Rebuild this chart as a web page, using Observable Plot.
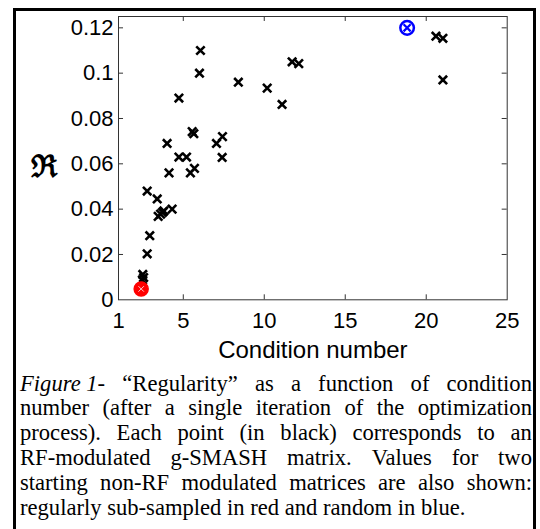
<!DOCTYPE html>
<html><head><meta charset="utf-8">
<script src="https://cdn.jsdelivr.net/npm/d3@7"></script>
<script src="https://cdn.jsdelivr.net/npm/@observablehq/plot@0.6"></script>
<style>
body{margin:0;background:#fff;width:540px;height:529px;overflow:hidden;position:relative}
#frame{position:absolute;left:13px;top:8px;width:517px;height:540px;border:3px solid #000;border-bottom:none;box-sizing:content-box}
#chart{position:absolute;left:0;top:0}
#caption{position:absolute;left:20px;top:371.6px;width:512px;font-family:"Liberation Serif","Times New Roman",serif;font-size:22.6px;line-height:24.8px;color:#000}
#caption div{white-space:nowrap;display:flex;justify-content:space-between}
#caption div.last{display:block;text-align:left}
</style></head>
<body>
<div id="frame"></div>
<div id="chart"></div>
<div id="caption"></div>
<script>
// Black points: condition number and regularity
const condBlack = [6.06, 6.0, 8.4, 4.73, 5.55, 5.65, 7.42, 7.05, 4.0, 4.73, 5.2, 7.4, 4.12, 5.44, 5.69, 2.77, 3.39, 4.31, 3.45, 3.6, 3.72, 3.8, 2.93, 2.77, 2.5, 2.55, 2.48, 10.18, 11.1, 11.72, 12.13, 20.6, 21.03, 21.03];
const regBlack  = [0.110, 0.100, 0.096, 0.089, 0.0742, 0.0733, 0.072, 0.069, 0.069, 0.063, 0.063, 0.0628, 0.056, 0.056, 0.058, 0.048, 0.0445, 0.040, 0.0368, 0.0378, 0.0386, 0.0392, 0.0283, 0.0203, 0.0112, 0.0098, 0.0088, 0.0934, 0.0862, 0.105, 0.1042, 0.1163, 0.1154, 0.097];
const condRed = [2.4];
const regRed = [0.0048];
const condBlue = [18.82];
const regBlue = [0.120];
const xTicks = [1, 5, 10, 15, 20, 25];
const xTickLabels = ["1", "5", "10", "15", "20", "25"];
const yTicks = [0, 0.02, 0.04, 0.06, 0.08, 0.1, 0.12];
const yTickLabels = ["0", "0.02", "0.04", "0.06", "0.08", "0.1", "0.12"];
const xLabel = "Condition number";
const yLabel = "\u211C";
const captionLines = [
  ["<i>Figure 1-</i>", "“Regularity”", "as", "a", "function", "of", "condition"],
  ["number", "(after", "a", "single", "iteration", "of", "the", "optimization"],
  ["process).", "Each", "point", "(in", "black)", "corresponds", "to", "an"],
  ["RF-modulated", "g-SMASH", "matrix.", "Values", "for", "two"],
  ["starting", "non-RF", "modulated", "matrices", "are", "also", "shown:"],
  ["regularly sub-sampled in red and random in blue."]
];

const black = condBlack.map((c, i) => ({c, r: regBlack[i]}));
const red = condRed.map((c, i) => ({c, r: regRed[i]}));
const blue = condBlue.map((c, i) => ({c, r: regBlue[i]}));
const tickColor = "#333";

const chart = Plot.plot({
  width: 540,
  height: 370,
  marginLeft: 118,
  marginRight: 33.3,
  marginTop: 16,
  marginBottom: 70.7,
  x: {domain: [1, 25]},
  y: {domain: [0, 0.125]},
  style: {fontFamily: "'Liberation Sans', Arial, sans-serif", fontSize: "22px", background: "transparent", overflow: "visible", color: "#000"},
  marks: [
    Plot.frame({stroke: tickColor, strokeWidth: 1}),
    Plot.ruleX(xTicks.slice(1, -1), {y1: 0, y2: 0.0022, stroke: tickColor}),
    Plot.ruleX(xTicks.slice(1, -1), {y1: 0.125, y2: 0.125 - 0.0022, stroke: tickColor}),
    Plot.ruleY(yTicks.slice(1), {x1: 1, x2: 1.31, stroke: tickColor}),
    Plot.ruleY(yTicks.slice(1), {x1: 25, x2: 24.69, stroke: tickColor}),
    Plot.axisX(xTicks, {tickSize: 0, tickPadding: 13, fontSize: 22, label: null, tickFormat: d => xTickLabels[xTicks.indexOf(d)]}),
    Plot.axisY(yTicks, {tickSize: 0, tickPadding: 5, fontSize: 22, label: null, tickFormat: d => yTickLabels[yTicks.indexOf(d)]}),
    Plot.text([xLabel], {frameAnchor: "bottom", textAnchor: "middle", dy: 58, fontSize: 24, text: d => d}),
    Plot.text([yLabel], {frameAnchor: "left", textAnchor: "middle", dx: -74.5, dy: 9, fontSize: 31, fontFamily: "'DejaVu Serif', serif", fontWeight: "bold", text: d => d}),
    Plot.dot(black, {x: "c", y: "r", symbol: "times", r: 3.9, stroke: "#000", strokeWidth: 2.6}),
    Plot.dot(red, {x: "c", y: "r", r: 7, stroke: "#f00", strokeWidth: 1.5, fill: "#f00"}),
    Plot.dot(red, {x: "c", y: "r", symbol: "times", r: 2.6, stroke: "#ffd0d0", strokeWidth: 1}),
    Plot.dot(blue, {x: "c", y: "r", r: 6.8, stroke: "#00f", strokeWidth: 2.5, fill: "none"}),
    Plot.dot(blue, {x: "c", y: "r", symbol: "times", r: 3.3, stroke: "#00f", strokeWidth: 2.2})
  ]
});
document.getElementById("chart").appendChild(chart);

const cap = document.getElementById("caption");
captionLines.forEach((words, i) => {
  const div = document.createElement("div");
  if (i === captionLines.length - 1) {
    div.className = "last";
    div.textContent = words.join(" ");
  } else {
    div.innerHTML = words.map(w => `<span>${w}</span>`).join("");
  }
  cap.appendChild(div);
});
</script>
</body></html>
